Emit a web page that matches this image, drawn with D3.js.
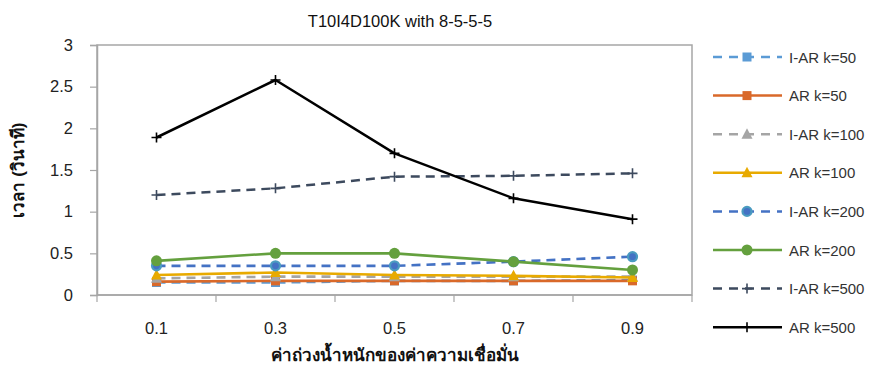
<!DOCTYPE html>
<html>
<head>
<meta charset="utf-8">
<script src="https://cdn.jsdelivr.net/npm/d3@7"></script>
<style>
  html, body { margin: 0; padding: 0; background: #fff; }
  svg { display: block; font-family: "Liberation Sans", Arial, sans-serif; }
</style>
</head>
<body>
<svg id="chart" width="870" height="369"></svg>
<script>
// Thresholds on the x axis
const categories = ["0.1", "0.3", "0.5", "0.7", "0.9"];
const yTicks = [0, 0.5, 1, 1.5, 2, 2.5, 3];

// Execution time (seconds) per series
const iar50  = [0.15, 0.15, 0.17, 0.17, 0.18];
const ar50   = [0.16, 0.17, 0.17, 0.17, 0.17];
const iar100 = [0.20, 0.22, 0.22, 0.22, 0.22];
const ar100  = [0.24, 0.27, 0.24, 0.23, 0.21];
const iar200 = [0.35, 0.35, 0.35, 0.40, 0.46];
const ar200  = [0.41, 0.50, 0.50, 0.40, 0.30];
const iar500 = [1.20, 1.28, 1.42, 1.43, 1.46];
const ar500  = [1.89, 2.58, 1.70, 1.16, 0.91];

const seriesNames = ["I-AR k=50", "AR k=50", "I-AR k=100", "AR k=100",
                     "I-AR k=200", "AR k=200", "I-AR k=500", "AR k=500"];
const seriesValues = [iar50, ar50, iar100, ar100, iar200, ar200, iar500, ar500];

const styles = [
  { color: "#5B9BD5", dash: true,  marker: "square" },
  { color: "#D9692A", dash: false, marker: "square" },
  { color: "#A5A5A5", dash: true,  marker: "triangle" },
  { color: "#E8AA00", dash: false, marker: "triangle" },
  { color: "#4472C4", dash: true,  marker: "circle2" },
  { color: "#64A03E", dash: false, marker: "circle" },
  { color: "#3D4A5E", dash: true,  marker: "plus" },
  { color: "#000000", dash: false, marker: "plus" }
];

const svg = d3.select("#chart");
const plot = { left: 97, right: 692, top: 45, bottom: 295 };

const x = d3.scaleBand().domain(categories).range([plot.left, plot.right]);
const y = d3.scaleLinear().domain([0, 3]).range([plot.bottom, plot.top]);

// Plot frame
svg.append("rect")
  .attr("x", plot.left).attr("y", plot.top)
  .attr("width", plot.right - plot.left).attr("height", plot.bottom - plot.top)
  .attr("fill", "none").attr("stroke", "#A6A6A6").attr("stroke-width", 1.5);

// Y axis
const yAxis = svg.append("g")
  .attr("transform", `translate(${plot.left},0)`)
  .call(d3.axisLeft(y).tickValues(yTicks).tickFormat(d3.format("")).tickSize(7).tickPadding(17));
yAxis.select(".domain").attr("stroke", "#A6A6A6").attr("stroke-width", 1.5);
yAxis.selectAll(".tick line").attr("stroke", "#A6A6A6").attr("stroke-width", 1.2);
yAxis.selectAll(".tick text").attr("font-size", 16.5).attr("fill", "#222")
  .attr("font-family", "Liberation Sans, Arial, sans-serif");

// X axis with ticks on band boundaries
const xAxisG = svg.append("g").attr("transform", `translate(0,${plot.bottom})`);
xAxisG.append("line")
  .attr("x1", plot.left).attr("x2", plot.right)
  .attr("stroke", "#A6A6A6").attr("stroke-width", 1.5);
const bounds = categories.map(c => x(c)).concat([x(categories[categories.length - 1]) + x.bandwidth()]);
xAxisG.selectAll(".bt").data(bounds).join("line")
  .attr("x1", d => d).attr("x2", d => d).attr("y1", 0).attr("y2", 7)
  .attr("stroke", "#A6A6A6").attr("stroke-width", 1.2);
xAxisG.selectAll(".lbl").data(categories).join("text")
  .attr("x", d => x(d) + x.bandwidth() / 2).attr("y", 39)
  .attr("text-anchor", "middle").attr("font-size", 16.5).attr("fill", "#222")
  .text(d => d);

// Titles
svg.append("text").attr("x", 400).attr("y", 27).attr("text-anchor", "middle")
  .attr("font-size", 16.5).attr("fill", "#111").text("T10I4D100K with 8-5-5-5");
svg.append("text").attr("x", 395).attr("y", 361).attr("text-anchor", "middle")
  .attr("font-size", 17).attr("font-weight", "bold").attr("fill", "#111")
  .text("ค่าถ่วงน้ำหนักของค่าความเชื่อมั่น");
svg.append("text").attr("transform", "translate(24,170) rotate(-90)")
  .attr("text-anchor", "middle").attr("font-size", 17).attr("font-weight", "bold").attr("fill", "#111")
  .text("เวลา (วินาที)");

function drawMarker(g, st, cx, cy) {
  if (st.marker === "square") {
    g.append("rect").attr("x", cx - 4.5).attr("y", cy - 4.5).attr("width", 9).attr("height", 9)
      .attr("fill", st.color);
  } else if (st.marker === "triangle") {
    g.append("path").attr("d", `M${cx},${cy - 6}L${cx + 5.5},${cy + 4.5}L${cx - 5.5},${cy + 4.5}Z`)
      .attr("fill", st.color);
  } else if (st.marker === "circle") {
    g.append("circle").attr("cx", cx).attr("cy", cy).attr("r", 5.5).attr("fill", st.color);
  } else if (st.marker === "circle2") {
    g.append("circle").attr("cx", cx).attr("cy", cy).attr("r", 4.5)
      .attr("fill", st.color).attr("stroke", "#4A9BC0").attr("stroke-width", 2.2);
  } else if (st.marker === "plus") {
    g.append("path").attr("d", `M${cx - 5},${cy}H${cx + 5}M${cx},${cy - 5}V${cy + 5}`)
      .attr("stroke", st.color).attr("stroke-width", 1.6).attr("fill", "none");
  }
}

const line = d3.line()
  .x((d, i) => x(categories[i]) + x.bandwidth() / 2)
  .y(d => y(d));

seriesValues.forEach((vals, si) => {
  const st = styles[si];
  const g = svg.append("g");
  g.append("path").datum(vals).attr("d", line)
    .attr("fill", "none").attr("stroke", st.color)
    .attr("stroke-width", st.marker === "plus" ? 2.5 : 2.6)
    .attr("stroke-dasharray", st.dash ? "9,6" : null)
    .attr("stroke-linejoin", "round");
  vals.forEach((v, i) => drawMarker(g, st, x(categories[i]) + x.bandwidth() / 2, y(v)));
});

// Legend
const legend = svg.append("g");
seriesNames.forEach((name, i) => {
  const st = styles[i];
  const ly = 57 + i * 38.6;
  const g = legend.append("g");
  g.append("line").attr("x1", 713).attr("x2", 782).attr("y1", ly).attr("y2", ly)
    .attr("stroke", st.color).attr("stroke-width", 2.5)
    .attr("stroke-dasharray", st.dash ? "9,7" : null);
  drawMarker(g, st, 747, ly);
  g.append("text").attr("x", 789).attr("y", ly + 5.5).attr("font-size", 15).attr("fill", "#333")
    .text(name);
});
</script>
</body>
</html>
